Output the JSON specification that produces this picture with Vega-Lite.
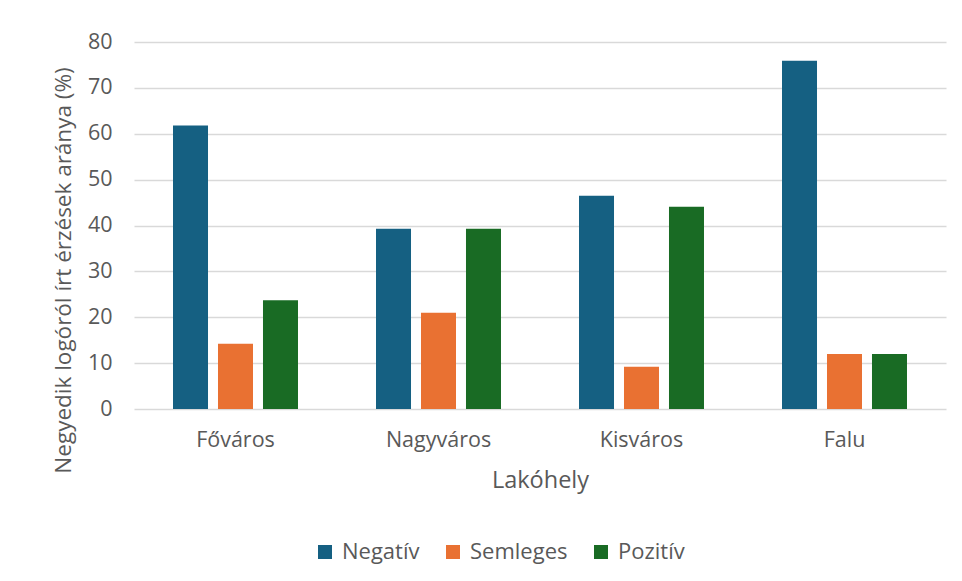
{
  "$schema": "https://vega.github.io/schema/vega-lite/v6.json",
  "width": 812,
  "height": 367,
  "autosize": {"type": "none"},
  "padding": {"left": 134, "top": 42, "right": 16, "bottom": 172},
  "background": "white",
  "config": {
    "view": {"stroke": null},
    "font": "Open Sans",
    "axis": {"labelColor": "#595959", "titleColor": "#595959", "labelFont": "Open Sans", "titleFont": "Open Sans"},
    "legend": {"labelColor": "#595959", "labelFont": "Open Sans"}
  },
  "data": {
    "values": [
      {"lakohely": "Főváros", "erzes": "Negatív", "arany": 61.8},
      {"lakohely": "Főváros", "erzes": "Semleges", "arany": 14.2},
      {"lakohely": "Főváros", "erzes": "Pozitív", "arany": 23.7},
      {"lakohely": "Nagyváros", "erzes": "Negatív", "arany": 39.3},
      {"lakohely": "Nagyváros", "erzes": "Semleges", "arany": 21.0},
      {"lakohely": "Nagyváros", "erzes": "Pozitív", "arany": 39.3},
      {"lakohely": "Kisváros", "erzes": "Negatív", "arany": 46.5},
      {"lakohely": "Kisváros", "erzes": "Semleges", "arany": 9.2},
      {"lakohely": "Kisváros", "erzes": "Pozitív", "arany": 44.1},
      {"lakohely": "Falu", "erzes": "Negatív", "arany": 75.9},
      {"lakohely": "Falu", "erzes": "Semleges", "arany": 12.0},
      {"lakohely": "Falu", "erzes": "Pozitív", "arany": 12.0}
    ]
  },
  "mark": {"type": "bar"},
  "encoding": {
    "x": {
      "field": "lakohely",
      "type": "nominal",
      "sort": ["Főváros", "Nagyváros", "Kisváros", "Falu"],
      "scale": {"paddingInner": 0, "paddingOuter": 0},
      "axis": {
        "title": "Lakóhely",
        "labelAngle": 0,
        "labelFontSize": 21.5,
        "labelPadding": 20,
        "ticks": false,
        "domain": false,
        "titleFontSize": 23.5,
        "titleFontWeight": "normal",
        "titlePadding": 18
      }
    },
    "xOffset": {
      "field": "erzes",
      "type": "nominal",
      "sort": ["Negatív", "Semleges", "Pozitív"],
      "scale": {"paddingInner": 0.222, "paddingOuter": 0.867}
    },
    "y": {
      "field": "arany",
      "type": "quantitative",
      "scale": {"domain": [0, 80]},
      "axis": {
        "title": "Negyedik logóról írt érzések aránya (%)",
        "values": [0, 10, 20, 30, 40, 50, 60, 70, 80],
        "labelFontSize": 21.5,
        "labelPadding": 22,
        "ticks": false,
        "domain": false,
        "gridColor": "#d9d9d9",
        "gridWidth": 1.5,
        "titleFontSize": 22.5,
        "titleFontWeight": "normal",
        "titleX": -71,
        "titleY": 228,
        "titleAngle": -90,
        "titleAlign": "center",
        "titleBaseline": "middle"
      }
    },
    "color": {
      "field": "erzes",
      "type": "nominal",
      "sort": ["Negatív", "Semleges", "Pozitív"],
      "scale": {"domain": ["Negatív", "Semleges", "Pozitív"], "range": ["#156082", "#E97132", "#196B24"]},
      "legend": {
        "title": null,
        "orient": "none",
        "direction": "horizontal",
        "legendX": 180,
        "legendY": 499,
        "symbolType": "square",
        "symbolSize": 196,
        "symbolStrokeWidth": 0,
        "labelFontSize": 22,
        "labelOffset": 6,
        "columnPadding": 22
      }
    }
  }
}
